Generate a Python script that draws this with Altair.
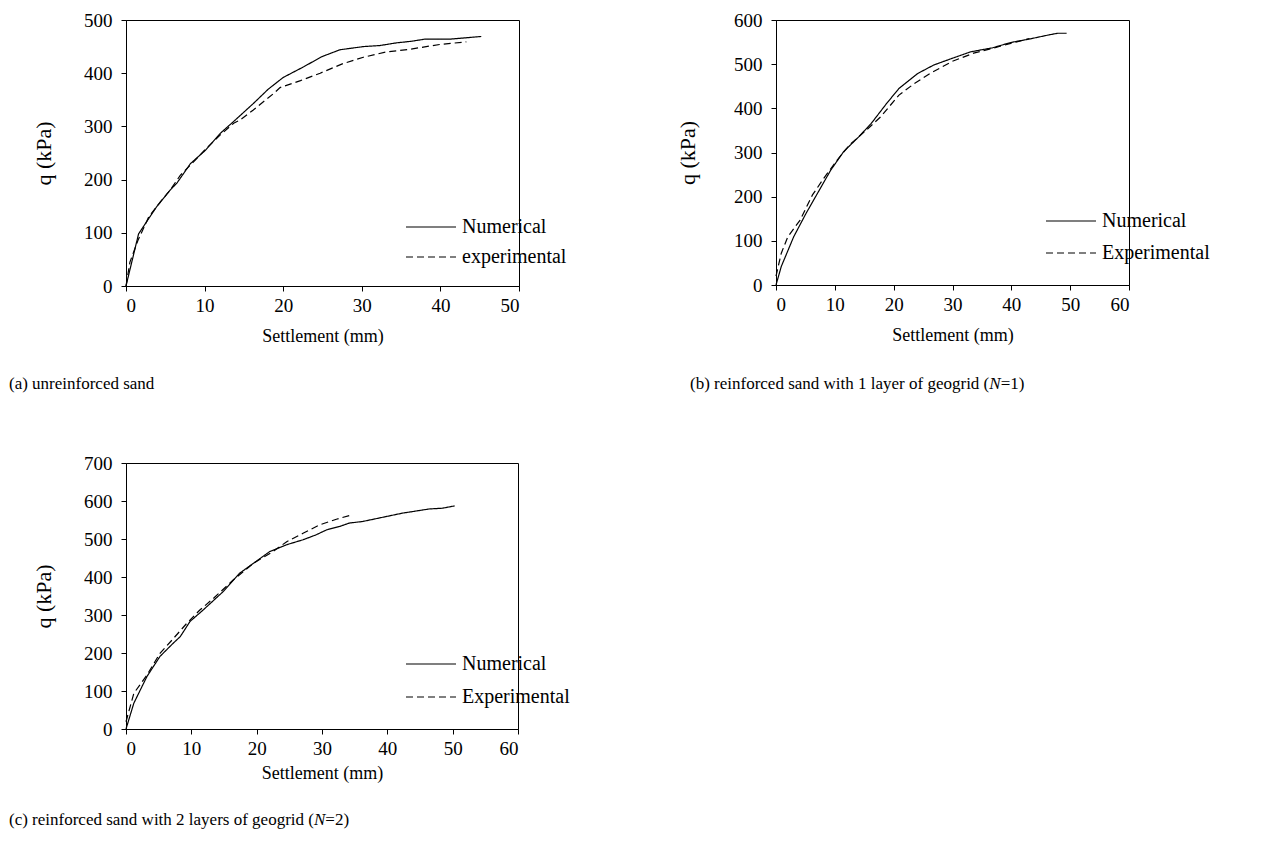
import altair as alt
import pandas as pd

# ---------------- data ----------------
a_num_s = [0, 1.6, 2.9, 3.9, 5.6, 6.5, 8.2, 10.1, 12.0, 13.9, 16.2, 18.1, 20.0, 22.6, 24.9, 27.2, 30.2, 32.3, 34.4, 36.3, 38.0, 41.2, 45.2]
a_num_q = [0, 98, 127, 149, 180, 194, 230, 255, 287, 312, 343, 370, 392, 412, 431, 444, 450, 452, 457, 460, 464, 464, 469]
a_exp_s = [0, 0.5, 1.5, 2.9, 4.2, 5.6, 6.9, 8.5, 10.1, 12.0, 13.7, 14.5, 16.2, 18.8, 19.6, 22.2, 24.7, 27.6, 30.2, 33.1, 36.1, 39.9, 43.3]
a_exp_q = [0, 45, 85, 130, 155, 180, 208, 232, 257, 284, 306, 312, 331, 362, 373, 386, 400, 418, 430, 440, 445, 454, 459]

b_num_s = [0, 0.9, 3.0, 5.1, 7.2, 9.3, 11.5, 14.1, 16.2, 18.8, 20.9, 24.1, 26.8, 29.9, 33.1, 36.8, 39.9, 43.1, 46.3, 47.9, 49.4]
b_num_q = [0, 42, 109, 162, 211, 260, 302, 336, 366, 411, 445, 479, 498, 513, 528, 537, 549, 557, 566, 570, 570]
b_exp_s = [0, 0.9, 2.0, 4.1, 6.2, 8.3, 10.4, 12.5, 15.7, 17.8, 20.9, 23.6, 26.2, 29.9, 33.6, 36.8, 39.9, 43.1]
b_exp_q = [20, 72, 109, 147, 204, 245, 283, 317, 355, 381, 430, 457, 479, 506, 525, 536, 547, 558]

c_num_s = [0, 1.2, 3.2, 5.2, 7.3, 8.3, 9.8, 11.8, 14.9, 17.4, 19.5, 22.0, 24.6, 27.1, 29.1, 30.7, 32.7, 34.2, 36.2, 39.8, 42.3, 46.4, 48.4, 50.3]
c_num_q = [0, 68, 138, 191, 227, 243, 283, 313, 362, 410, 436, 467, 485, 498, 511, 524, 533, 542, 546, 559, 568, 579, 581, 587]
c_exp_s = [0, 1.2, 3.2, 5.2, 7.3, 9.3, 11.3, 13.4, 16.4, 19.5, 22.5, 24.6, 27.1, 29.6, 32.2, 34.7]
c_exp_q = [19, 94, 142, 199, 239, 278, 313, 344, 392, 436, 467, 493, 515, 537, 552, 564]

x_ticks_a = [0, 10, 20, 30, 40, 50]
x_ticks_bc = [0, 10, 20, 30, 40, 50, 60]
y_ticks_a = [0, 100, 200, 300, 400, 500]
y_ticks_b = [0, 100, 200, 300, 400, 500, 600]
y_ticks_c = [0, 100, 200, 300, 400, 500, 600, 700]

cap_a = ["(a) unreinforced sand", "", ""]
cap_b = ["(b) reinforced sand with 1 layer of geogrid (", "N", "=1)"]
cap_c = ["(c) reinforced sand with 2 layers of geogrid (", "N", "=2)"]

FONT = "Liberation Serif"
CAP_SIZE = 17
LEG_SIZE = 20

# Times / Liberation Serif advance widths (per 1000 em) for placing the italic N
W = {' ': 250, '(': 333, ')': 333, '=': 564, 'a': 444, 'b': 500, 'c': 444, 'd': 500, 'e': 444,
     'f': 333, 'g': 500, 'h': 500, 'i': 278, 'l': 278, 'n': 500, 'o': 500, 'r': 333, 's': 389,
     't': 278, 'u': 500, 'w': 722, 'y': 500}


def text_width(s, size):
    return sum(W.get(ch, 500) for ch in s) * size / 1000.0


def panel(num_s, num_q, exp_s, exp_q, exp_label, x_ticks, y_ticks, w, h,
          leg_x, leg_y, row_pad, ytitle_pad, xtitle_pad, caption, cap_x, cap_y):
    df = pd.DataFrame({
        "s": num_s + exp_s,
        "q": num_q + exp_q,
        "series": ["Numerical"] * len(num_s) + [exp_label] * len(exp_s),
        "i": list(range(len(num_s))) + list(range(len(exp_s))),
    })
    lines = alt.Chart(df).mark_line(color="black", strokeWidth=1.2).encode(
        x=alt.X("s:Q",
                scale=alt.Scale(domain=[x_ticks[0], x_ticks[-1]], nice=False),
                axis=alt.Axis(values=x_ticks, title="Settlement (mm)", titlePadding=xtitle_pad)),
        y=alt.Y("q:Q",
                scale=alt.Scale(domain=[y_ticks[0], y_ticks[-1]], nice=False),
                axis=alt.Axis(values=y_ticks, title="q (kPa)", titlePadding=ytitle_pad)),
        strokeDash=alt.StrokeDash(
            "series:N",
            scale=alt.Scale(domain=["Numerical", exp_label], range=[[1, 0], [7, 4]]),
            legend=alt.Legend(title=None, orient="none", legendX=leg_x, legendY=leg_y,
                              symbolType="stroke", symbolSize=2500, symbolStrokeWidth=1.2,
                              symbolStrokeColor="black", clipHeight=LEG_SIZE, rowPadding=row_pad,
                              labelFont=FONT, labelFontSize=LEG_SIZE, labelColor="black",
                              labelOffset=5, labelLimit=400, padding=0),
        ),
        order="i:Q",
    )
    layers = [lines]
    one = pd.DataFrame({"k": [0]})
    x0 = cap_x
    for idx, part in enumerate(caption):
        if not part:
            continue
        layers.append(
            alt.Chart(one).mark_text(text=part, font=FONT, fontSize=CAP_SIZE, color="black",
                                     align="left", baseline="middle",
                                     fontStyle="italic" if idx == 1 else "normal").encode(
                x=alt.value(x0), y=alt.value(cap_y))
        )
        x0 += (667 * CAP_SIZE / 1000.0) if idx == 1 else text_width(part, CAP_SIZE)
    return alt.layer(*layers).resolve_scale(strokeDash="independent").properties(width=w, height=h)


pa = panel(a_num_s, a_num_q, a_exp_s, a_exp_q, "experimental", x_ticks_a, y_ticks_a, 393, 266,
           279, 197, 10, 28, 12, cap_a, -117, 266 + 98)
pb = panel(b_num_s, b_num_q, b_exp_s, b_exp_q, "Experimental", x_ticks_bc, y_ticks_b, 353, 265,
           269, 191, 12, 34, 12, cap_b, -86, 265 + 99)
pc = panel(c_num_s, c_num_q, c_exp_s, c_exp_q, "Experimental", x_ticks_bc, y_ticks_c, 392, 266,
           279, 191, 13, 28, 6, cap_c, -117, 266 + 91)

chart = alt.vconcat(
    alt.hconcat(pa, pb, spacing=257, bounds="flush").resolve_scale(strokeDash="independent"),
    pc,
    spacing=60,
).resolve_scale(strokeDash="independent").properties(
    padding={"left": 0, "top": 2, "right": 5, "bottom": 5},
    background="white",
).configure_view(
    stroke="black", strokeWidth=1
).configure_axis(
    grid=False, domainColor="black", tickColor="black", tickSize=5,
    labelFont=FONT, labelFontSize=19, labelColor="black",
    titleFont=FONT, titleFontWeight="normal", titleColor="black",
).configure_axisX(
    labelPadding=5, titleFontSize=18,
).configure_axisY(
    labelPadding=9, titleFontSize=22,
)

chart.save("out.html", embed_options={"renderer": "svg", "actions": False})
